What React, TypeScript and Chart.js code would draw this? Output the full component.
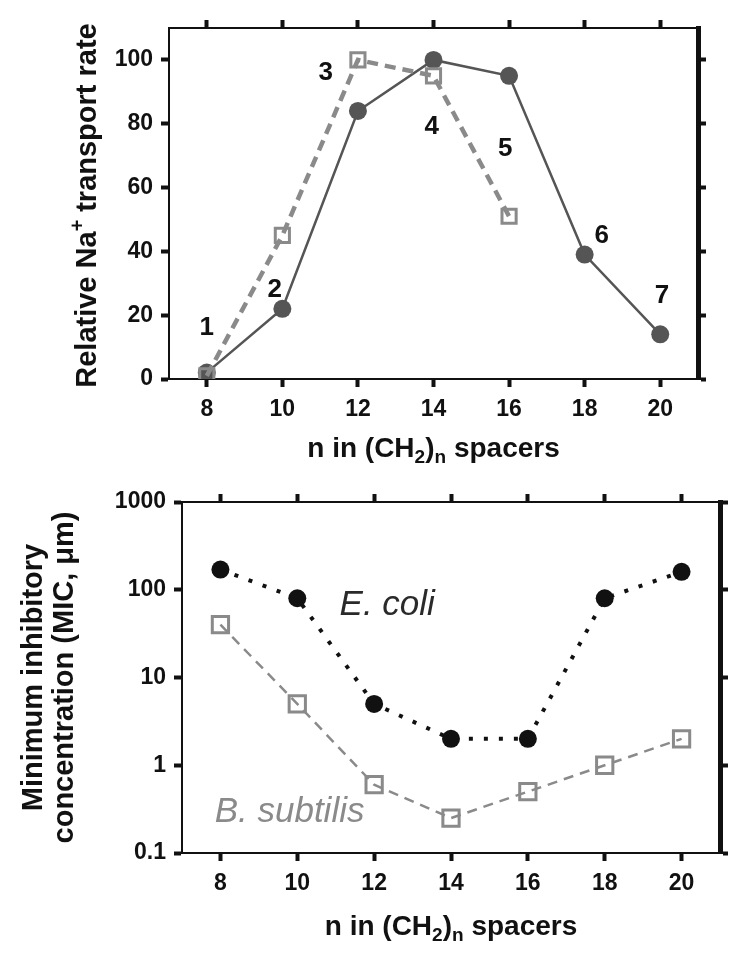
import React, { useEffect, useRef } from 'react';
import { Chart, registerables } from 'chart.js';

Chart.register(...registerables);

// ---------- data: top panel (relative Na+ transport) ----------
const spacerN = [8, 10, 12, 14, 16, 18, 20];
const transportSolid = [2, 22, 84, 100, 95, 39, 14];
const transportDashedN = [8, 10, 12, 14, 16];
const transportDashed = [1, 45, 100, 95, 51];
const compoundLabels = ['1', '2', '3', '4', '5', '6', '7'];
const compoundLabelN = [8.0, 9.8, 11.15, 13.95, 15.9, 18.45, 20.05];
const compoundLabelY = [16, 28, 96, 79, 72, 45, 26];
const transportTicks = [0, 20, 40, 60, 80, 100];
const nTicks = [8, 10, 12, 14, 16, 18, 20];

// ---------- data: bottom panel (MIC) ----------
const micEcoli = [170, 80, 5, 2, 2, 80, 160];
const micBsub = [40, 5, 0.6, 0.25, 0.5, 1, 2];
const micTicks = [0.1, 1, 10, 100, 1000];
const speciesNames = ['E. coli', 'B. subtilis'];
const speciesN = [11.1, 7.85];
const speciesMIC = [67, 0.29];

const FONT = "'Liberation Sans', Arial, Helvetica, sans-serif";
const INK = '#111';

type Seg = { t: string; s?: number; dy?: number };

function drawRich(ctx: CanvasRenderingContext2D, segs: Seg[], x: number, y: number, size: number, rotate: boolean, weight = 'bold') {
  ctx.save();
  ctx.translate(x, y);
  if (rotate) ctx.rotate(-Math.PI / 2);
  ctx.textAlign = 'left';
  ctx.textBaseline = 'alphabetic';
  ctx.fillStyle = INK;
  let total = 0;
  const widths = segs.map((seg) => {
    ctx.font = `${weight} ${size * (seg.s || 1)}px ${FONT}`;
    const w = ctx.measureText(seg.t).width;
    total += w;
    return w;
  });
  let cx = -total / 2;
  const base = size * 0.36;
  segs.forEach((seg, i) => {
    ctx.font = `${weight} ${size * (seg.s || 1)}px ${FONT}`;
    ctx.fillText(seg.t, cx, base + (seg.dy || 0) * size);
    cx += widths[i];
  });
  ctx.restore();
}

const xTitleSegs: Seg[] = [
  { t: 'n in (CH' },
  { t: '2', s: 0.68, dy: 0.2 },
  { t: ')' },
  { t: 'n', s: 0.68, dy: 0.2 },
  { t: ' spacers' },
];

function tickGrid() {
  return {
    display: true,
    drawOnChartArea: false,
    drawTicks: true,
    tickLength: 8,
    tickWidth: 4,
    tickColor: INK,
    color: INK,
  };
}

const tickFont = { family: FONT, size: 23, weight: 'bold' as const };

function xAxes(sizes: { top: number; bottom: number }) {
  return {
    x: {
      type: 'linear' as const,
      position: 'bottom' as const,
      min: 7,
      max: 21,
      afterBuildTicks: (s: any) => { s.ticks = nTicks.map((v) => ({ value: v })); },
      afterFit: (s: any) => { s.height = sizes.bottom; },
      ticks: { font: tickFont, color: INK, padding: 9, maxRotation: 0, autoSkip: false },
      grid: tickGrid(),
      border: { display: true, color: INK, width: 2 },
    },
    xTop: {
      type: 'linear' as const,
      position: 'top' as const,
      min: 7,
      max: 21,
      afterBuildTicks: (s: any) => { s.ticks = nTicks.map((v) => ({ value: v })); },
      afterFit: (s: any) => { s.height = sizes.top; },
      ticks: { display: false },
      grid: tickGrid(),
      border: { display: true, color: INK, width: 2 },
    },
  };
}

const topOverlay = {
  id: 'topOverlay',
  afterDatasetsDraw(chart: any) {
    const ctx: CanvasRenderingContext2D = chart.ctx;
    const xs = chart.scales.x;
    const ys = chart.scales.y;
    ctx.save();
    ctx.fillStyle = INK;
    ctx.font = `bold 26px ${FONT}`;
    ctx.textAlign = 'center';
    ctx.textBaseline = 'middle';
    compoundLabels.forEach((t, i) => {
      ctx.fillText(t, xs.getPixelForValue(compoundLabelN[i]), ys.getPixelForValue(compoundLabelY[i]));
    });
    ctx.restore();
    const ca = chart.chartArea;
    drawRich(ctx, xTitleSegs, (ca.left + ca.right) / 2, ca.bottom + 68, 28, false);
    drawRich(
      ctx,
      [{ t: 'Relative Na' }, { t: '+', s: 0.68, dy: -0.42 }, { t: ' transport rate' }],
      ca.left - 83,
      (ca.top + ca.bottom) / 2 + 2,
      29,
      true
    );
  },
};

const bottomOverlay = {
  id: 'bottomOverlay',
  afterDatasetsDraw(chart: any) {
    const ctx: CanvasRenderingContext2D = chart.ctx;
    const xs = chart.scales.x;
    const ys = chart.scales.y;
    const colors = ['#2a2a2a', '#8a8a8a'];
    ctx.save();
    ctx.font = `italic 35px ${FONT}`;
    ctx.textAlign = 'left';
    ctx.textBaseline = 'middle';
    speciesNames.forEach((t, i) => {
      ctx.fillStyle = colors[i];
      ctx.fillText(t, xs.getPixelForValue(speciesN[i]), ys.getPixelForValue(speciesMIC[i]));
    });
    ctx.restore();
    const ca = chart.chartArea;
    drawRich(ctx, xTitleSegs, (ca.left + ca.right) / 2, ca.bottom + 72, 28, false);
    const cy = (ca.top + ca.bottom) / 2;
    drawRich(ctx, [{ t: 'Minimum inhibitory' }], ca.left - 150, cy, 29, true);
    drawRich(ctx, [{ t: 'concentration (MIC, μm)' }], ca.left - 119, cy, 29, true);
  },
};

function topConfig(): any {
  return {
    type: 'line',
    data: {
      datasets: [
        {
          label: 'dashed',
          data: transportDashedN.map((n, i) => ({ x: n, y: transportDashed[i] })),
          borderColor: '#8a8a8a',
          borderWidth: 4.5,
          borderDash: [11, 7],
          pointStyle: 'rect',
          pointRadius: 10,
          pointBorderWidth: 3,
          pointBorderColor: '#8a8a8a',
          pointBackgroundColor: 'rgba(255,255,255,0)',
          tension: 0,
          order: 1,
        },
        {
          label: 'solid',
          data: spacerN.map((n, i) => ({ x: n, y: transportSolid[i] })),
          borderColor: '#555',
          borderWidth: 2.5,
          pointStyle: 'circle',
          pointRadius: 9,
          pointBorderWidth: 0,
          pointBackgroundColor: '#555',
          tension: 0,
          order: 2,
        },
      ],
    },
    options: {
      responsive: false,
      animation: false,
      devicePixelRatio: 1,
      layout: { padding: 0 },
      plugins: { legend: { display: false }, tooltip: { enabled: false }, title: { display: false } },
      scales: {
        ...xAxes({ top: 28, bottom: 99 }),
        y: {
          type: 'linear',
          position: 'left',
          min: 0,
          max: 110,
          afterBuildTicks: (s: any) => { s.ticks = transportTicks.map((v) => ({ value: v })); },
          afterFit: (s: any) => { s.width = 169; },
          ticks: { font: tickFont, color: INK, padding: 8 },
          grid: tickGrid(),
          border: { display: true, color: INK, width: 2 },
        },
        yRight: {
          type: 'linear',
          position: 'right',
          min: 0,
          max: 110,
          afterBuildTicks: (s: any) => { s.ticks = transportTicks.map((v) => ({ value: v })); },
          afterFit: (s: any) => { s.width = 43; },
          ticks: { display: false },
          grid: tickGrid(),
          border: { display: true, color: INK, width: 5 },
        },
      },
    },
    plugins: [topOverlay],
  };
}

function bottomConfig(): any {
  return {
    type: 'line',
    data: {
      datasets: [
        {
          label: 'E. coli',
          data: spacerN.map((n, i) => ({ x: n, y: micEcoli[i] })),
          borderColor: INK,
          borderWidth: 4,
          borderDash: [4, 11],
          pointStyle: 'circle',
          pointRadius: 9,
          pointBorderWidth: 0,
          pointBackgroundColor: INK,
          tension: 0,
          order: 2,
        },
        {
          label: 'B. subtilis',
          data: spacerN.map((n, i) => ({ x: n, y: micBsub[i] })),
          borderColor: '#8a8a8a',
          borderWidth: 2.5,
          borderDash: [10, 7],
          pointStyle: 'rect',
          pointRadius: 11.5,
          pointBorderWidth: 3,
          pointBorderColor: '#8a8a8a',
          pointBackgroundColor: 'rgba(255,255,255,0)',
          tension: 0,
          order: 1,
        },
      ],
    },
    options: {
      responsive: false,
      animation: false,
      devicePixelRatio: 1,
      layout: { padding: 0 },
      plugins: { legend: { display: false }, tooltip: { enabled: false }, title: { display: false } },
      scales: {
        ...xAxes({ top: 24, bottom: 104 }),
        y: {
          type: 'logarithmic',
          position: 'left',
          min: 0.1,
          max: 1000,
          afterBuildTicks: (s: any) => { s.ticks = micTicks.map((v) => ({ value: v })); },
          afterFit: (s: any) => { s.width = 182; },
          ticks: { font: tickFont, color: INK, padding: 8, callback: (v: any) => String(v) },
          grid: tickGrid(),
          border: { display: true, color: INK, width: 2 },
        },
        yRight: {
          type: 'logarithmic',
          position: 'right',
          min: 0.1,
          max: 1000,
          afterBuildTicks: (s: any) => { s.ticks = micTicks.map((v) => ({ value: v })); },
          afterFit: (s: any) => { s.width = 21; },
          ticks: { display: false },
          grid: tickGrid(),
          border: { display: true, color: INK, width: 5 },
        },
      },
    },
    plugins: [bottomOverlay],
  };
}

export default function App() {
  const topRef = useRef<HTMLCanvasElement>(null);
  const botRef = useRef<HTMLCanvasElement>(null);
  useEffect(() => {
    const c1 = new Chart(topRef.current as HTMLCanvasElement, topConfig());
    const c2 = new Chart(botRef.current as HTMLCanvasElement, bottomConfig());
    return () => {
      c1.destroy();
      c2.destroy();
    };
  }, []);
  return (
    <div style={{ position: 'absolute', left: 0, top: 0, width: 741, height: 957, background: '#fff' }}>
      <canvas ref={topRef} width={741} height={478} style={{ display: 'block', width: 741, height: 478 }} />
      <canvas ref={botRef} width={741} height={479} style={{ display: 'block', width: 741, height: 479 }} />
    </div>
  );
}
